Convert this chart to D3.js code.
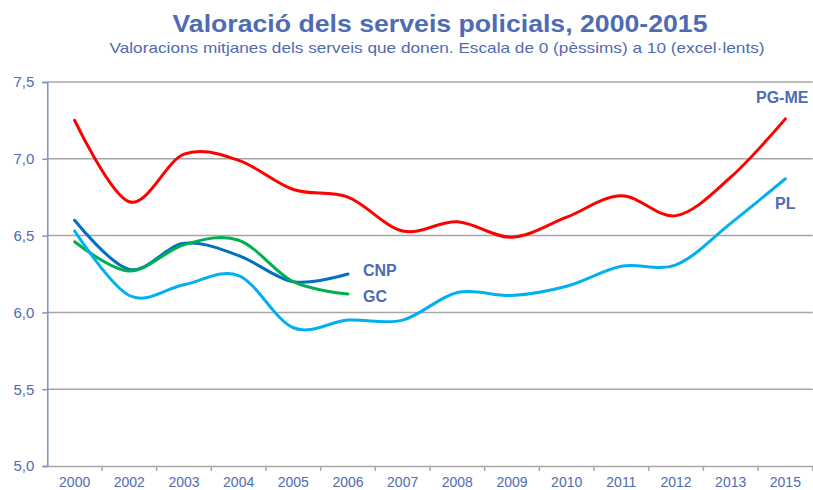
<!DOCTYPE html>
<html><head><meta charset="utf-8">
<script src="https://cdn.jsdelivr.net/npm/d3@7"></script>
<style>body{margin:0;background:#fff;}svg{display:block;font-family:"Liberation Sans",Arial,sans-serif;}</style>
</head><body><svg id="c" width="813" height="490"></svg>
<script>
const years = ["2000","2002","2003","2004","2005","2006","2007","2008","2009","2010","2011","2012","2013","2015"];
const pgme = [7.25,6.72,7.03,6.99,6.80,6.75,6.53,6.59,6.49,6.62,6.76,6.63,6.88,7.26];
const pl   = [6.53,6.11,6.18,6.24,5.90,5.95,5.95,6.13,6.11,6.17,6.30,6.31,6.58,6.87];
const cnp  = [6.60,6.28,6.45,6.37,6.20,6.25];
const gc   = [6.46,6.27,6.44,6.47,6.20,6.12];
const yTicks = [5.0,5.5,6.0,6.5,7.0,7.5];
const title = "Valoració dels serveis policials, 2000-2015";
const subtitle = "Valoracions mitjanes dels serveis que donen. Escala de 0 (pèssims) a 10 (excel·lents)";

const txt = "#4F6BB3";
const svg = d3.select("#c");
const L = 47.3, R = 812.7, T = 82, B = 466;
const x = d3.scaleBand().domain(years).range([L, R]);
const xc = d => x(d) + x.bandwidth()/2;
const y = d3.scaleLinear().domain([5,7.5]).range([B, T]);

svg.append("text").attr("x",440).attr("y",32).attr("text-anchor","middle")
  .attr("font-size",24).attr("font-weight","bold").attr("fill",txt)
  .attr("textLength",535).attr("lengthAdjust","spacingAndGlyphs").text(title);
svg.append("text").attr("x",437).attr("y",53).attr("text-anchor","middle")
  .attr("font-size",15).attr("fill",txt)
  .attr("textLength",655).attr("lengthAdjust","spacingAndGlyphs").text(subtitle);

// grid
svg.append("g").selectAll("line").data(yTicks.filter(v=>v>5)).join("line")
  .attr("x1",L).attr("x2",R).attr("y1",d=>y(d)).attr("y2",d=>y(d))
  .attr("stroke","#A6A6A6").attr("stroke-width",1.5);

// y axis
const ya = svg.append("g").attr("transform",`translate(${L},0)`)
  .call(d3.axisLeft(y).tickValues(yTicks).tickFormat(d=>d3.format(".1f")(d).replace(".",",")).tickSize(5).tickPadding(8));
ya.select(".domain").attr("stroke","#7F93C6").attr("stroke-width",1.5);
ya.selectAll(".tick line").attr("stroke","#7F93C6").attr("stroke-width",1.5);
ya.selectAll("text").attr("fill",txt).attr("font-size",15).attr("font-family","Liberation Sans, Arial, sans-serif");

// x axis
const xa = svg.append("g").attr("transform",`translate(0,${B})`)
  .call(d3.axisBottom(x).tickSize(0).tickPadding(11));
xa.select(".domain").attr("stroke","#A6A6A6").attr("stroke-width",1.5);
xa.selectAll("text").attr("fill",txt).attr("font-size",14).attr("font-family","Liberation Sans, Arial, sans-serif");
xa.selectAll(".sep").data(years.slice(1).concat(["end"])).join("line")
  .attr("x1",(d,i)=>L+(i+1)*x.bandwidth()).attr("x2",(d,i)=>L+(i+1)*x.bandwidth())
  .attr("y1",0).attr("y2",5).attr("stroke","#A6A6A6").attr("stroke-width",1.5);

const line = d3.line().x(d=>xc(d[0])).y(d=>y(d[1])).curve(d3.curveCardinal.tension(0));
const series = [[pgme,"#FF0000"],[cnp,"#0070C0"],[gc,"#00B050"],[pl,"#00B0F0"]];
series.forEach(([vals,col])=>{
  svg.append("path").datum(vals.map((v,i)=>[years[i],v]))
    .attr("d",line).attr("fill","none").attr("stroke",col).attr("stroke-width",3).attr("stroke-linecap","round");
});

const labels = [["PG-ME",756,103],["PL",775,209],["CNP",363,276],["GC",363,302]];
svg.append("g").selectAll("text").data(labels).join("text")
  .attr("x",d=>d[1]).attr("y",d=>d[2]).attr("font-size",16).attr("font-weight","bold").attr("fill",txt).text(d=>d[0]);
</script></body></html>
